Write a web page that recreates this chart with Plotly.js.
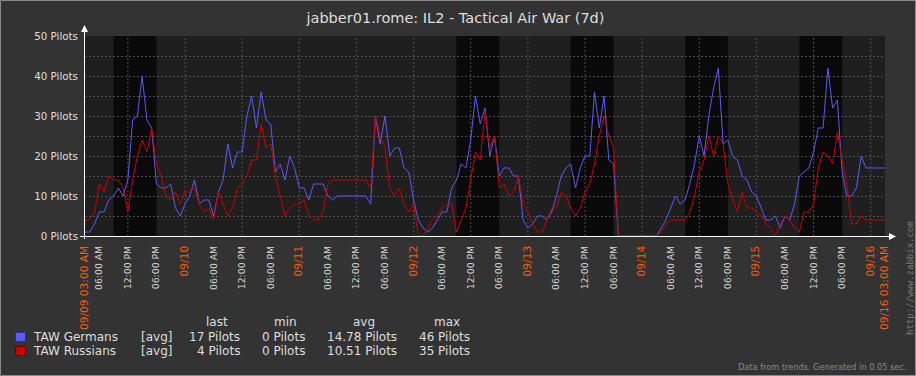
<!DOCTYPE html>
<html><head><meta charset="utf-8">
<script src="https://cdn.plot.ly/plotly-3.0.1.min.js"></script>
<style>html,body{margin:0;padding:0;background:#333333;overflow:hidden}#chart{width:916px;height:376px}</style>
</head><body><div id="chart"></div>
<script>
// ---------- data ----------
const chartTitle = 'jabber01.rome: IL2 - Tactical Air War (7d)';
const startTime = '2013-09-09T03:00:00Z';
const endTime = '2013-09-16T03:00:00Z';
const stepHours = 1;
const germans = [
 1,1,3,6,6,9,10,12,10,14,
 29,30,40,29,27,13,12,12,13,7,
 5,8,10,14,8,9,9,5,11,14,
 23,17,21,21,30,35,27,36,29,28,
 16,18,14,20,17,12,12,9,13,13,
 13,10,9,10,10,10,10,10,10,10,
 8,30,23,30,20,22,22,17,16,9,
 4,2,1,2,4,6,6,12,14,18,
 17,24,35,28,32,20,25,15,17,17,
 15,15,4,2,3,5,5,4,6,10,
 15,17,18,12,17,20,20,36,27,35,
 19,18,0,0,0,0,0,0,0,0,
 0,2,4,7,10,8,9,13,18,25,
 20,30,37,42,23,24,20,19,15,14,
 11,10,7,4,4,5,2,5,4,8,
 15,16,17,21,27,27,42,32,34,16,
 10,10,12,20,17,17,17,17,17
];
const russians = [
 4,4,6,13,11,15,14,14,12,6,
 14,20,24,21,27,18,15,10,9,11,
 8,11,11,12,8,6,7,4,11,8,
 5,7,12,13,15,19,19,28,22,23,
 15,10,5,7,8,8,9,5,4,4,
 6,13,14,14,14,14,14,14,14,14,
 12,30,25,22,12,10,12,8,6,8,
 0,0,2,4,5,7,8,8,1,4,
 7,14,21,19,31,22,25,12,13,10,
 11,15,8,6,3,1,1,4,7,7,
 11,10,7,5,7,11,13,18,25,30,
 25,22,0,0,0,0,0,0,0,0,
 0,1,3,4,4,4,4,6,10,16,
 19,25,20,25,23,13,9,6,11,7,
 7,6,5,3,2,0,3,5,4,2,
 1,6,6,8,17,21,20,18,26,19,
 13,3,3,5,4,4,4,4,4
];
const workPeriods = [
 ['2013-09-09 09:00','2013-09-09 18:00'],
 ['2013-09-12 09:00','2013-09-12 18:00'],
 ['2013-09-13 09:00','2013-09-13 18:00'],
 ['2013-09-14 09:00','2013-09-14 18:00'],
 ['2013-09-15 09:00','2013-09-15 18:00']
];
const yTickValues = [0,5,10,15,20,25,30,35,40,45,50];
const yTickLabels = ['0 Pilots','','10 Pilots','','20 Pilots','','30 Pilots','','40 Pilots','','50 Pilots'];
const seriesNames = ['TAW Germans','TAW Russians'];
const seriesFunc = ['[avg]','[avg]'];
const statHeaders = ['last','min','avg','max'];
const statLast = ['17 Pilots','4 Pilots'];
const statMin = ['0 Pilots','0 Pilots'];
const statAvg = ['14.78 Pilots','10.51 Pilots'];
const statMax = ['46 Pilots','35 Pilots'];
const footerText = 'Data from trends. Generated in 0.05 sec.';
const watermarkText = 'http://www.zabbix.com';

// ---------- styles ----------
const FONT = 'DejaVu Sans';
const lineColors = ['#5a5aff','#cc0000'];
const boxBorder = ['#2a2a9a','#6a0000'];
const ORANGE = '#ff5a0a';
const TEXT = '#dfdfdf';
const GRID = '#4f4f4f';

// ---------- helpers ----------
const H = 3600000;
const t0 = Date.parse(startTime), t1 = Date.parse(endTime);
function fmt(ms){ return new Date(ms).toISOString().slice(0,19).replace('T',' '); }
function pad(n){ return (n<10?'0':'')+n; }
const times = germans.map((_,i)=>fmt(t0 + i*stepHours*H));

function label(t, full){
  const d = new Date(t);
  const mm = pad(d.getUTCMonth()+1), dd = pad(d.getUTCDate()), h = d.getUTCHours();
  const hh = pad(h%12===0?12:h%12), ap = h<12?'AM':'PM';
  if (full) return '<span style="color:'+ORANGE+';font-size:10.6px">'+mm+'/'+dd+' '+hh+':00 '+ap+'</span>';
  if (h===0) return '<span style="color:'+ORANGE+';font-size:10.6px">'+mm+'/'+dd+'</span>';
  return hh+':00 '+ap;
}
const tickVals = [fmt(t0)], tickText = [label(t0,true)];
for (let t=t0+3*H; t<t1; t+=6*H){ tickVals.push(fmt(t)); tickText.push(label(t,false)); }
tickVals.push(fmt(t1)); tickText.push(label(t1,true));
const gridVals = [];
for (let t=t0+9*H; t<t1; t+=12*H) gridVals.push(fmt(t));

// pixel helpers (plot area 85..885 x, 36..236 y)
const L=85, R=31, T=36, B=140, PW=800, PH=200;
const px = x => (x-L)/PW;
const py = y => (T+PH-y)/PH;

const shapes = [];
workPeriods.forEach(p=>shapes.push({type:'rect',xref:'x',yref:'y',x0:p[0],x1:p[1],y0:0,y1:50,
  fillcolor:'#0a0a0a',line:{width:0},layer:'below'}));
gridVals.forEach(g=>shapes.push({type:'line',xref:'x',yref:'y',x0:g,x1:g,y0:0,y1:50,
  line:{color:GRID,width:1,dash:'2px,2px'},layer:'below'}));
// axes lines + arrows
shapes.push({type:'line',xref:'paper',yref:'paper',x0:px(84.5),x1:px(84.5),y0:py(239),y1:py(30),line:{color:'#ffffff',width:1},layer:'above'});
shapes.push({type:'path',xref:'paper',yref:'paper',path:`M ${px(81)} ${py(32)} L ${px(84.5)} ${py(25)} L ${px(88)} ${py(32)} Z`,fillcolor:'#ffffff',line:{width:0},layer:'above'});
shapes.push({type:'line',xref:'paper',yref:'paper',x0:px(80),x1:px(890),y0:py(236.5),y1:py(236.5),line:{color:'#ffffff',width:1},layer:'above'});
shapes.push({type:'path',xref:'paper',yref:'paper',path:`M ${px(889)} ${py(233)} L ${px(896)} ${py(236.5)} L ${px(889)} ${py(240)} Z`,fillcolor:'#ffffff',line:{width:0},layer:'above'});
// outer border
shapes.push({type:'rect',xref:'paper',yref:'paper',x0:px(0.5),x1:px(915.5),y0:py(375.5),y1:py(0.5),line:{color:'#8a8a8a',width:1},fillcolor:'rgba(0,0,0,0)',layer:'above'});
// legend boxes
[337,351].forEach((yc,i)=>shapes.push({type:'rect',xref:'paper',yref:'paper',x0:px(15.5),x1:px(25.5),y0:py(yc+4.5),y1:py(yc-4.5),
  fillcolor:lineColors[i],line:{color:boxBorder[i],width:1},layer:'above'}));

const annotations = [];
function ann(text,x,y,anchor,size,color,extra){
  annotations.push(Object.assign({text:text,xref:'paper',yref:'paper',x:px(x),y:py(y),xanchor:anchor,yanchor:'middle',
    showarrow:false,font:{family:FONT,size:size,color:color}},extra||{}));
}
const headerX = [216.5,285.5,363.5,446.5];
statHeaders.forEach((h,i)=>ann(h,headerX[i],322,'center',12,TEXT));
const rowY = [337,351];
const colR = [242,307,399,472];
seriesNames.forEach((n,i)=>{
  ann(n,31,rowY[i],'left',12,TEXT);
  ann(seriesFunc[i],139,rowY[i],'left',12,TEXT);
  [statLast,statMin,statAvg,statMax].forEach((arr,j)=>ann(arr[i],colR[j],rowY[i],'right',12,TEXT));
});
ann(footerText,908,367,'right',8.2,'#8a8a8a');
annotations.push({text:watermarkText,xref:'paper',yref:'paper',x:px(910),y:py(278),xanchor:'center',yanchor:'middle',
  showarrow:false,textangle:-90,font:{family:'DejaVu Sans Mono',size:9,color:'#7a7a7a'}});

const traces = [
 {x:times,y:germans,type:'scatter',mode:'lines',name:seriesNames[0],line:{color:lineColors[0],width:1},hoverinfo:'skip'},
 {x:times,y:russians,type:'scatter',mode:'lines',name:seriesNames[1],line:{color:lineColors[1],width:1},hoverinfo:'skip'}
];

const layout = {
  width:916,height:376,
  paper_bgcolor:'#333333',plot_bgcolor:'#1f1f1f',
  margin:{l:L,r:R,t:T,b:B,pad:0},
  showlegend:false,
  font:{family:FONT,color:TEXT},
  title:{text:chartTitle,font:{family:FONT,size:14.5,color:TEXT},xref:'container',yref:'container',x:455.5/916,xanchor:'center',y:1-18/376,yanchor:'middle'},
  xaxis:{type:'date',range:[fmt(t0),fmt(t1)],tickmode:'array',tickvals:tickVals,ticktext:tickText,tickangle:-90,
    tickfont:{family:FONT,size:9.3,color:'#d8d8d8'},showgrid:false,zeroline:false,showline:false,ticks:'',ticklabelstandoff:7,fixedrange:true},
  yaxis:{range:[0,50],tickmode:'array',tickvals:yTickValues,ticktext:yTickLabels,tickfont:{family:FONT,size:10.3,color:TEXT},
    showgrid:true,gridcolor:GRID,griddash:'2px,2px',gridwidth:1,zeroline:false,showline:false,ticks:'',ticklabelstandoff:6,fixedrange:true},
  shapes:shapes,annotations:annotations
};
Plotly.newPlot('chart',traces,layout,{displayModeBar:false,staticPlot:true});
</script></body></html>
